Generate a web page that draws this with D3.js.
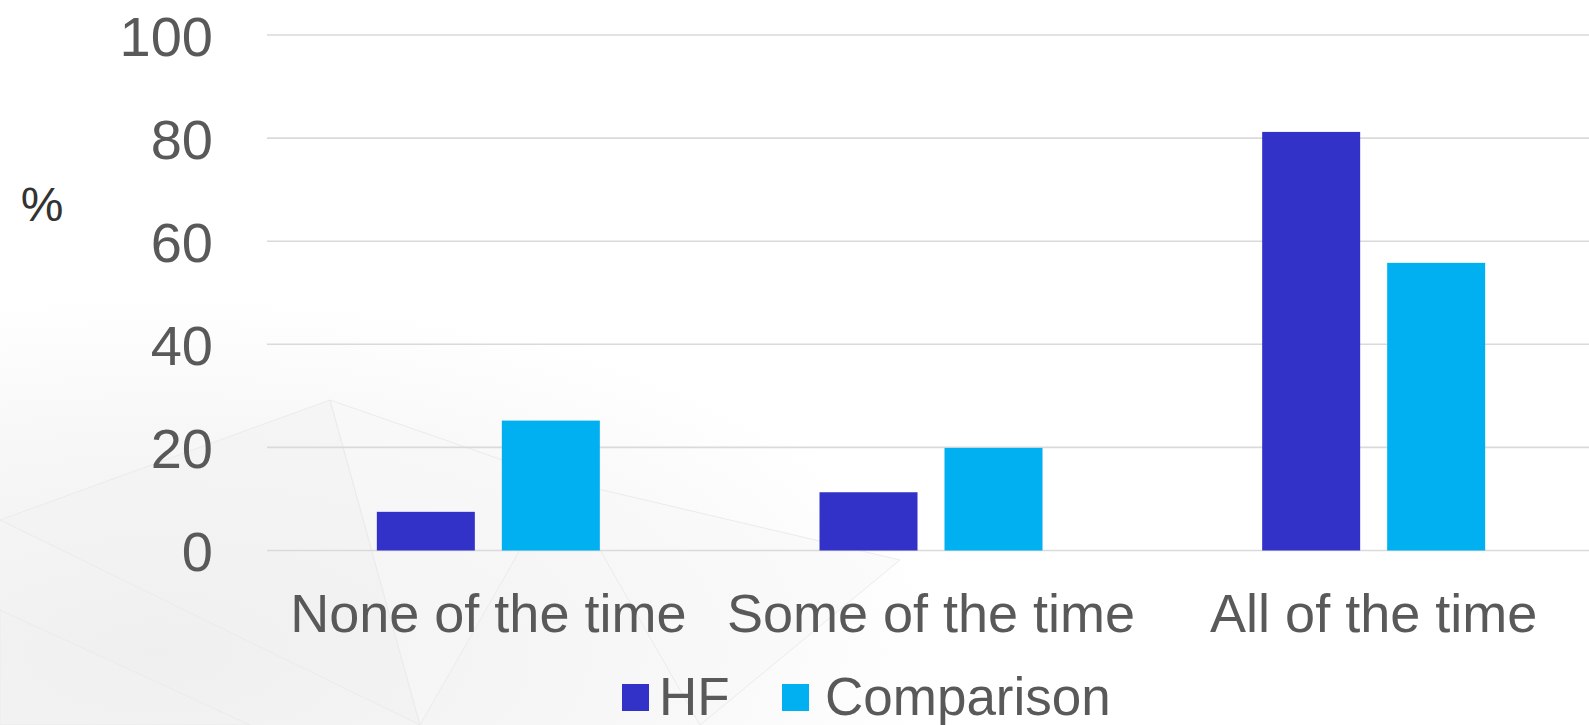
<!DOCTYPE html>
<html>
<head>
<meta charset="utf-8">
<script src="https://cdn.jsdelivr.net/npm/d3@7"></script>
<style>
  html, body { margin: 0; padding: 0; background: #ffffff; }
  svg { display: block; font-family: "Liberation Sans", Arial, sans-serif; }
</style>
</head>
<body>
<svg id="chart" width="1589" height="725"></svg>
<script>
// Share of respondents by frequency, HF group vs comparison group
const categories = ["None of the time", "Some of the time", "All of the time"];
const series = ["HF", "Comparison"];
const hfValues = [7.5, 11.3, 81.2];
const comparisonValues = [25.2, 19.9, 55.8];
const yTicks = [0, 20, 40, 60, 80, 100];
const yAxisTitle = "%";

const colors = { HF: "#3232C8", Comparison: "#00B0F0" };

const svg = d3.select("#chart");
const W = 1589, H = 725;

// Soft background texture in the lower-left corner
const defs = svg.append("defs");
const grad = defs.append("radialGradient")
  .attr("id", "bgShade").attr("cx", "0.1").attr("cy", "0.9").attr("r", "0.5");
grad.append("stop").attr("offset", "0%").attr("stop-color", "#efefef");
grad.append("stop").attr("offset", "60%").attr("stop-color", "#f7f7f7");
grad.append("stop").attr("offset", "100%").attr("stop-color", "#ffffff");
svg.append("rect").attr("width", W).attr("height", H).attr("fill", "url(#bgShade)");

const facets = [
  [[0, 520], [330, 400], [420, 725]],
  [[330, 400], [560, 480], [420, 725]],
  [[0, 610], [250, 725], [0, 725]],
  [[560, 480], [900, 560], [700, 725]]
];
svg.append("g").selectAll("path").data(facets).join("path")
  .attr("d", d => "M" + d.map(p => p.join(",")).join("L") + "Z")
  .attr("fill", (d, i) => i % 2 ? "#f8f8f8" : "#f1f1f1")
  .attr("fill-opacity", 0.5)
  .attr("stroke", "#ebebeb")
  .attr("stroke-width", 1);

// Scales
const x0 = d3.scaleBand().domain(categories).range([267, 1595]).paddingInner(0).paddingOuter(0);
const groupW = 223;
const x1 = d3.scaleBand().domain(series).range([0, groupW]).paddingInner(0.216).paddingOuter(0);
const y = d3.scaleLinear().domain([0, 100]).range([550.5, 35]);

// Gridlines
svg.append("g").selectAll("line").data(yTicks).join("line")
  .attr("x1", 267).attr("x2", W)
  .attr("y1", d => y(d)).attr("y2", d => y(d))
  .attr("stroke", "#dadada").attr("stroke-width", 1.6);

// Y axis labels
const yAxis = d3.axisLeft(y).tickValues(yTicks).tickSize(0).tickPadding(0);
const yg = svg.append("g").attr("transform", "translate(213,0)").call(yAxis);
yg.select(".domain").remove();
yg.selectAll("text")
  .attr("font-family", "\"Liberation Sans\", Arial, sans-serif")
  .attr("font-size", 56).attr("fill", "#595959").attr("dy", "0.36em");

// Axis title
svg.append("text").attr("x", 42).attr("y", 204).attr("dy", "0.36em")
  .attr("text-anchor", "middle").attr("font-size", 48).attr("fill", "#333333")
  .text(yAxisTitle);

// Bars
const rows = categories.map((c, i) => ({ cat: c, values: [
  { key: "HF", value: hfValues[i] },
  { key: "Comparison", value: comparisonValues[i] }
]}));

const groups = svg.append("g").selectAll("g").data(rows).join("g")
  .attr("transform", d => `translate(${x0(d.cat) + x0.bandwidth() / 2 - groupW / 2},0)`);
groups.selectAll("rect").data(d => d.values).join("rect")
  .attr("x", d => x1(d.key))
  .attr("width", x1.bandwidth())
  .attr("y", d => y(d.value))
  .attr("height", d => y(0) - y(d.value))
  .attr("fill", d => colors[d.key]);

// X axis labels
const xAxis = d3.axisBottom(x0).tickSize(0).tickPadding(0);
const xg = svg.append("g").attr("transform", "translate(0,632)").call(xAxis);
xg.select(".domain").remove();
xg.selectAll("text")
  .attr("font-family", "\"Liberation Sans\", Arial, sans-serif")
  .attr("font-size", 54).attr("fill", "#595959").attr("dy", 0);

// Legend
const legendItems = [
  { key: "HF", sx: 622, tx: 659 },
  { key: "Comparison", sx: 782, tx: 825 }
];
const lg = svg.append("g").selectAll("g").data(legendItems).join("g");
lg.append("rect").attr("x", d => d.sx).attr("y", 684).attr("width", 27).attr("height", 27)
  .attr("fill", d => colors[d.key]);
lg.append("text").attr("x", d => d.tx).attr("y", 715)
  .attr("font-size", 53).attr("fill", "#595959").text(d => d.key);
</script>
</body>
</html>
